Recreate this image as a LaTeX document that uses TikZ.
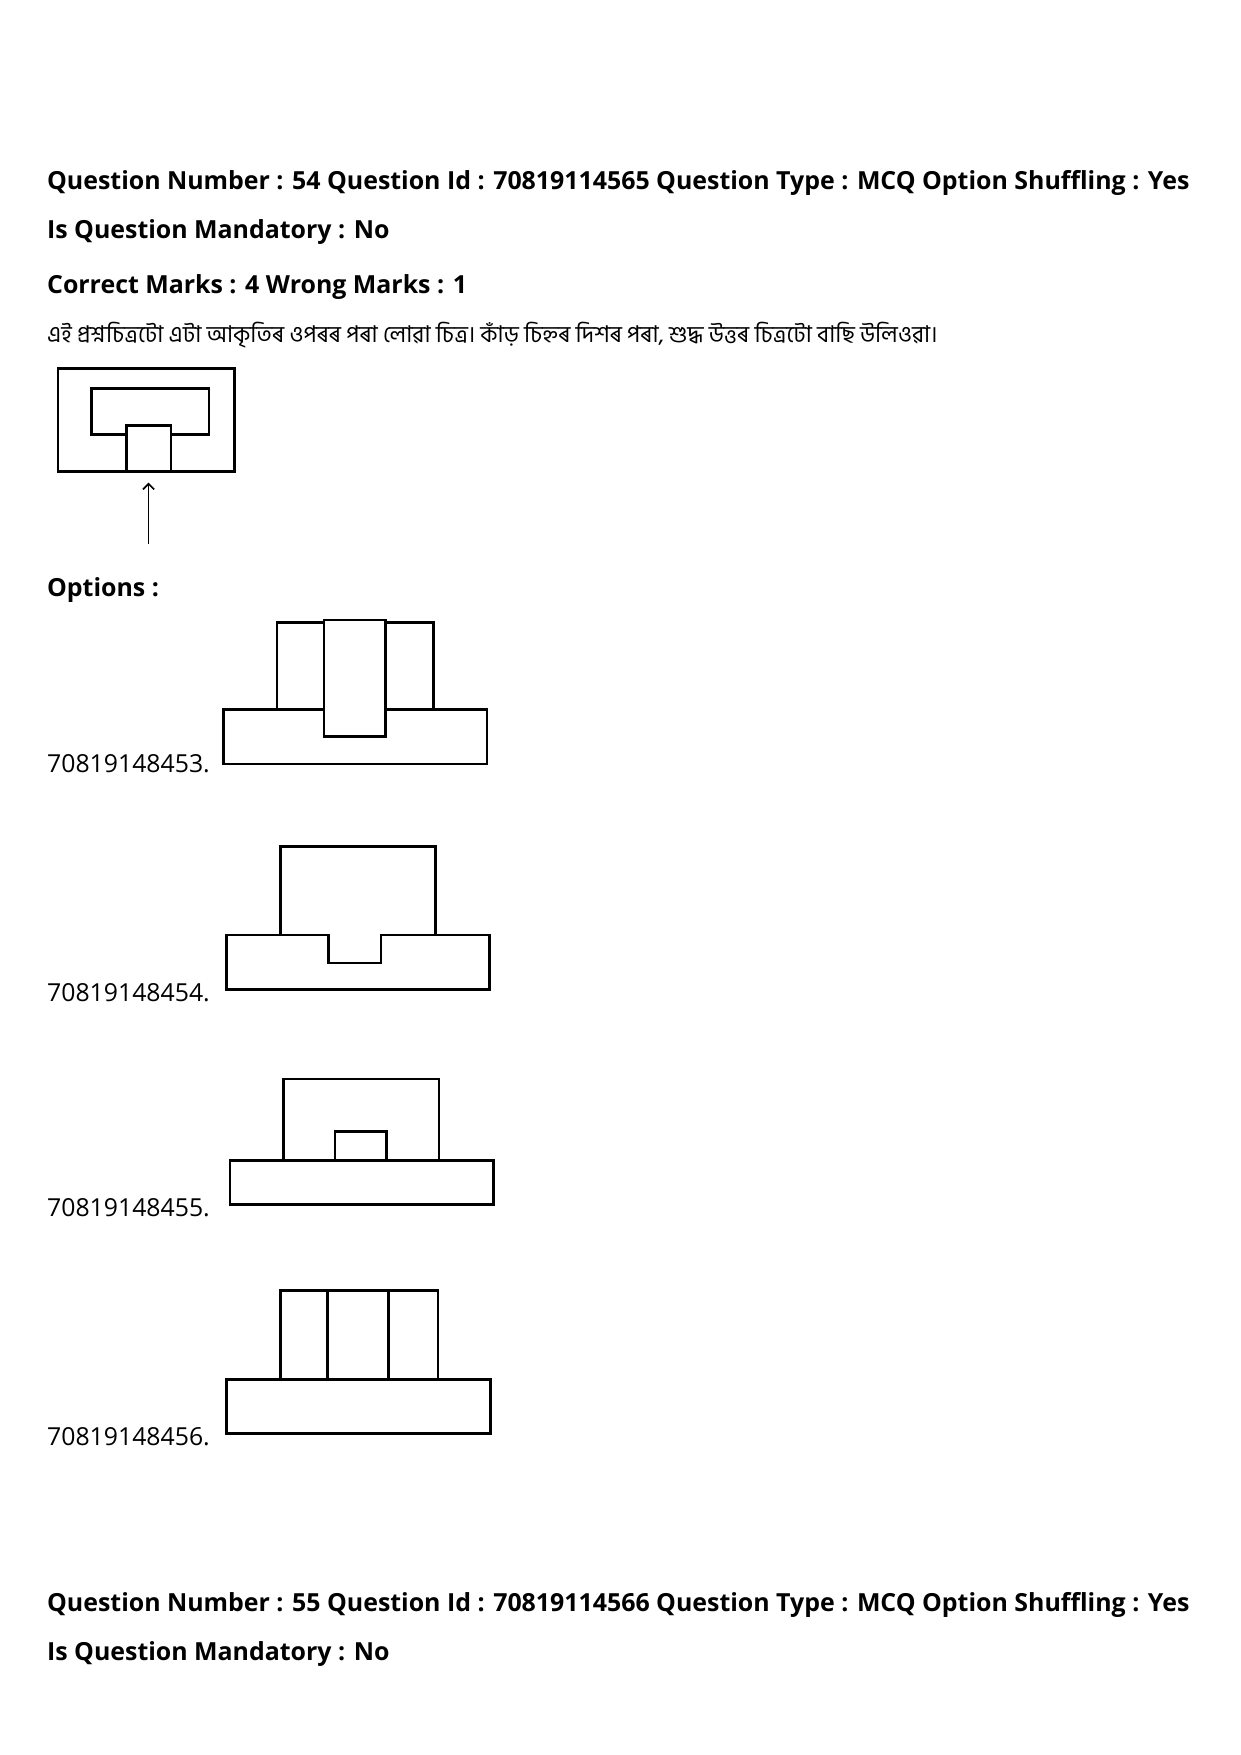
\documentclass[tikz,border=0pt]{standalone}
\usepackage{fontspec}
\setmainfont{Open Sans}
\newfontfamily\asfont[Script=Bengali]{Hind Siliguri}
\usetikzlibrary{arrows.meta}
\tikzset{head/.style={anchor=west,inner sep=0pt,font=\fontsize{22.3}{26}\selectfont\bfseries},
	 optlabel/.style={anchor=west,inner sep=0pt,font=\fontsize{22.2}{26}\selectfont},
	 shape line/.style={draw,line width=2.4pt}
	 }
\begin{document}
\begin{tikzpicture}[x=1pt,y=-1pt]
	\useasboundingbox (0,0) rectangle (1110,1571);
	\node[head] (q54) at (42,164) {Question Number : 54 Question Id : 70819114565 Question Type : MCQ Option Shuffling : Yes};
	\node[head] (mand) at (42,208) {Is Question Mandatory : No};
	\node[head] (marks) at (42,257) {Correct Marks : 4 Wrong Marks : 1};
	\node[anchor=west,inner sep=0pt,font=\fontsize{20.7}{24}\selectfont\asfont] (stem) at (42,300) {এই প্ৰশ্নচিত্ৰটো এটা আকৃতিৰ ওপৰৰ পৰা লোৱা চিত্ৰ।  কাঁড় চিহ্নৰ দিশৰ পৰা, শুদ্ধ উত্তৰ চিত্ৰটো বাছি উলিওৱা।};
	% question figure
	\draw[shape line] (52,330) rectangle (210,422);
	\draw[shape line] (113,389) -- (82,389) -- (82,348) -- (187,348) -- (187,389) -- (153,389);
	\draw[shape line] (113,381) rectangle (153,422);
	\coordinate (tail) at (133,487);
	\coordinate (tip) at (133,432);
	\draw[line width=1.5pt,-{Straight Barb[length=5pt,width=10pt]}] (tail) -- (tip);
	\node[head] (opts) at (42,528) {Options :};
	% option 1
	\node[optlabel] (o1) at (42,684) {70819148453.};
	\draw[shape line] (200,635) rectangle (436,684);
	\draw[shape line] (248,635) -- (248,557) -- (388,557) -- (388,635);
	\draw[shape line,fill=white] (290,555) rectangle (345,659);
	% option 2
	\node[optlabel] (o2) at (42,889) {70819148454.};
	\draw[shape line] (251,837) -- (251,758) -- (390,758) -- (390,837);
	\draw[shape line] (203,837) -- (294,837) -- (294,862) -- (341,862) -- (341,837) -- (438,837) -- (438,886) -- (203,886) -- cycle;
	% option 3
	\node[optlabel] (o3) at (42,1081) {70819148455.};
	\draw[shape line] (254,1039) -- (254,966) -- (393,966) -- (393,1039);
	\draw[shape line] (206,1039) rectangle (442,1078);
	\draw[shape line] (300,1039) -- (300,1013) -- (346,1013) -- (346,1039);
	% option 4
	\node[optlabel] (o4) at (42,1286) {70819148456.};
	\draw[shape line] (251,1235) -- (251,1155) -- (392,1155) -- (392,1235);
	\draw[shape line] (293,1155) -- (293,1235) (348,1155) -- (348,1235);
	\draw[shape line] (203,1235) rectangle (439,1283);
	% next question
	\node[head] (q55) at (42,1437) {Question Number : 55 Question Id : 70819114566 Question Type : MCQ Option Shuffling : Yes};
	\node[head] (mand2) at (42,1481) {Is Question Mandatory : No};
\end{tikzpicture}
\end{document}
